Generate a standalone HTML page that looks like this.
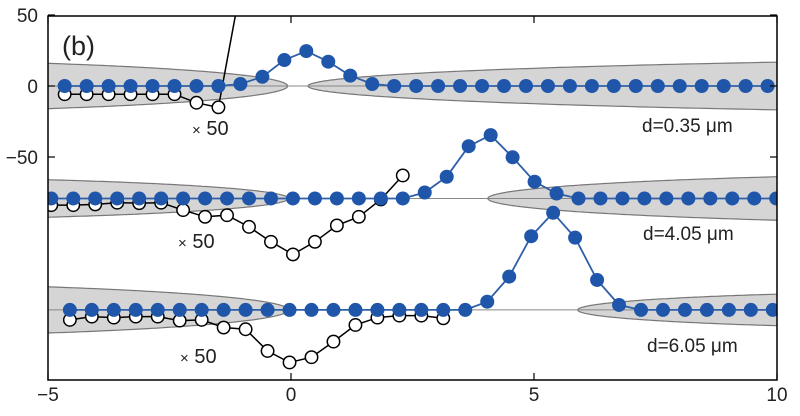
<!DOCTYPE html>
<html><head><meta charset="utf-8"><style>
html,body{margin:0;padding:0;background:#fff;}
svg text{font-family:"Liberation Sans",sans-serif;fill:#222;}
</style></head><body>
<svg id="chart" width="800" height="411" viewBox="0 0 800 411" xmlns="http://www.w3.org/2000/svg">
<defs><clipPath id="pc"><rect x="48" y="16" width="729" height="364"/></clipPath></defs>
<g id="regions" clip-path="url(#pc)"></g>
<g id="marks" clip-path="url(#pc)"></g>
<rect x="48" y="16" width="729" height="364" fill="none" stroke="#000" stroke-width="1.5"/>
<g id="axes"></g>
<text x="62" y="55" font-size="27">(b)</text>
<text x="192" y="135" font-size="20"><tspan font-size="15">×</tspan> 50</text>
<text x="178" y="248" font-size="20"><tspan font-size="15">×</tspan> 50</text>
<text x="180" y="363" font-size="20"><tspan font-size="15">×</tspan> 50</text>
<text x="642" y="132" font-size="19">d=0.35 μm</text>
<text x="643" y="240" font-size="19">d=4.05 μm</text>
<text x="647" y="352" font-size="19">d=6.05 μm</text>
</svg>
<script>
const xTicks=[-5,0,5,10];
const yTicks=[50,0,-50];
const step=0.452;
const offsets=[0,-79.2,-157.7];
const blueX0=[-0.137,0.04,-0.03];
const blueK0=[-10,-11,-10];
const blueTop=[0,0,0,0,0,0,0,0,1.4,6.5,18.3,24.6,17.1,7.3,1.4,0,0,0,0,0,0,0,0,0,0,0,0,0,0,0,0,0,0];
const blueMid=[0,0,0,0,0,0,0,0,0,0,0,0,0,0,0,0,0,4.2,15.3,36.8,44.6,29,11.8,3.5,0,0,0,0,0,0,0,0,0,0];
const blueBot=[0,0,0,0,0,0,0,0,0,0,0,0,0,0,0,0,0,0,0,5.8,23.5,51.9,68.4,50.9,21.1,3.5,0,0,0,0,0,0,0];
const openK0=[-10,-11,-10];
const openTop=[-5.8,-5.8,-5.8,-5.8,-5.8,-5.8,-11.8,-15];
const openMid=[-4.7,-4.7,-4.2,-3,-3.3,-3,-8.2,-12.9,-11.8,-20,-30.5,-39.4,-30.5,-19,-12.9,-0.7,16.2];
const openBot=[-7,-4.7,-5.4,-4.7,-4.7,-7.5,-7,-12.4,-13.6,-28.9,-37,-33.3,-22.3,-10.6,-5.4,-4,-4,-5.9];
const leftTips=[-0.07,-0.05,-0.05];
const rightTips=[0.35,4.05,5.9];
const leftHalf=[16.2,13.4,16.5];
const rightHalf=[16.9,15.5,11.3];

const NS="http://www.w3.org/2000/svg";
const xs=v=>48+(v+5)*48.6;
const ys=v=>86-v*1.42;
function mk(tag,attrs,parent){const e=document.createElementNS(NS,tag);for(const k in attrs)e.setAttribute(k,attrs[k]);parent.appendChild(e);return e;}
const regions=document.getElementById('regions');
const marks=document.getElementById('marks');
const axes=document.getElementById('axes');

function lens(tip,endX,half,off,dir){
  const tx=xs(tip),ex=xs(endX),U=Math.abs(ex-tx),A=2.2*U,H=half*1.42,c=ys(off);
  const norm=Math.sqrt(1-Math.pow((A-U)/A,2));const top=[],bot=[];
  for(let i=0;i<=80;i++){const u=U*Math.pow(i/80,2);const h=H*Math.sqrt(Math.max(0,1-Math.pow((A-u)/A,2)))/norm;const x=tx+dir*u;top.push([x,c-h]);bot.push([x,c+h]);}
  const pts=top.concat(bot.reverse());
  return 'M'+pts.map(p=>p[0].toFixed(1)+','+p[1].toFixed(1)).join(' L')+' Z';
}
const blues=[blueTop,blueMid,blueBot];
const opens=[openTop,openMid,openBot];
for(let s=0;s<3;s++){
  const l=mk('path',{d:lens(leftTips[s],-5.2,leftHalf[s],offsets[s],-1),fill:'#d5d5d5',stroke:'#777','stroke-width':1.2},regions);
  
  
  const r=mk('path',{d:lens(rightTips[s],10.2,rightHalf[s],offsets[s],1),fill:'#d5d5d5',stroke:'#777','stroke-width':1.2},regions);
  
  
  const b=mk('line',{x1:48,x2:777,y1:ys(offsets[s]),y2:ys(offsets[s]),stroke:'#888','stroke-width':1},regions);
  
  
}
for(let s=0;s<3;s++){
  const op=opens[s].map((v,i)=>[xs(blueX0[s]+(openK0[s]+i)*step),ys(offsets[s]+v)]);
  let d='M'+op.map(p=>p[0].toFixed(1)+','+p[1].toFixed(1)).join(' L');
  if(s===0){const last=op[op.length-1];d+=' L'+(last[0]+18).toFixed(1)+',10';}
  const ol=mk('path',{d:d,fill:'none',stroke:'#000','stroke-width':1.5},marks);
  
  
  op.forEach(p=>{const c=mk('circle',{cx:p[0],cy:p[1],r:6.2,fill:'#fff',stroke:'#000','stroke-width':1.5},marks);
    
    });
  const bp=blues[s].map((v,i)=>[xs(blueX0[s]+(blueK0[s]+i)*step),ys(offsets[s]+v)]);
  const bl=mk('path',{d:'M'+bp.map(p=>p[0].toFixed(1)+','+p[1].toFixed(1)).join(' L'),fill:'none',stroke:'#2f5fa8','stroke-width':1.8},marks);
  
  
  bp.forEach(p=>{const c=mk('circle',{cx:p[0],cy:p[1],r:7,fill:'#1f56aa'},marks);
    
    });
}
xTicks.forEach(v=>{
  const x=xs(v);
  mk('line',{x1:x,x2:x,y1:380,y2:373,stroke:'#000','stroke-width':1.2},axes);
  mk('line',{x1:x,x2:x,y1:16,y2:23,stroke:'#000','stroke-width':1.2},axes);
  const t=mk('text',{x:Math.min(x,781),y:401,'font-size':19,'text-anchor':'middle'},axes);
  t.textContent=v<0?'−'+Math.abs(v):String(v);
  
  
});
yTicks.forEach(v=>{
  const y=ys(v);
  mk('line',{x1:48,x2:55,y1:y,y2:y,stroke:'#000','stroke-width':1.2},axes);
  mk('line',{x1:777,x2:770,y1:y,y2:y,stroke:'#000','stroke-width':1.2},axes);
  const t=mk('text',{x:38,y:y+7,'font-size':19,'text-anchor':'end'},axes);
  t.textContent=v<0?'−'+Math.abs(v):String(v);
  
  
});
</script>
</body></html>
